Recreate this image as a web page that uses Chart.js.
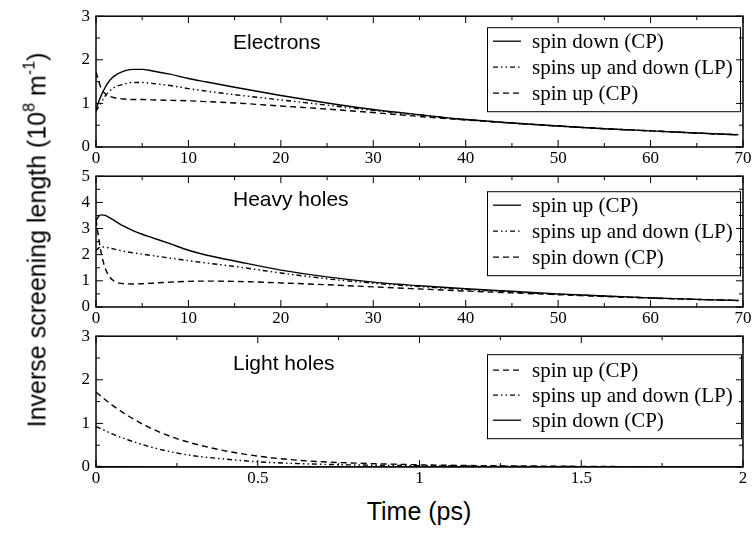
<!DOCTYPE html>
<html lang="en">
<head>
<meta charset="UTF-8">
<title>Inverse screening length</title>
<script src="https://cdn.jsdelivr.net/npm/chart.js"></script>
<style>
  body { margin: 0; background: #fff; width: 753px; height: 535px; position: relative; overflow: hidden; }
  .panel { position: absolute; left: 0; width: 753px; height: 170px; }
  #ytitle {
    position: absolute; left: 37px; top: 240px;
    transform: translate(-50%, -50%) rotate(-90deg);
    font: 25px "Liberation Sans", Arial, sans-serif; white-space: nowrap;
  }
  #ytitle sup { font-size: 16px; vertical-align: 11px; line-height: 0; }
  #xtitle {
    position: absolute; left: 419px; top: 511px;
    transform: translate(-50%, -50%);
    font: 25px "Liberation Sans", Arial, sans-serif; white-space: nowrap;
  }
</style>
</head>
<body>
<div class="panel" style="top:0px"><canvas id="c1" width="753" height="170"></canvas></div>
<div class="panel" style="top:160px"><canvas id="c2" width="753" height="170"></canvas></div>
<div class="panel" style="top:320px"><canvas id="c3" width="753" height="170"></canvas></div>
<div id="ytitle">Inverse screening length (10<sup>8</sup> m<sup>-1</sup>)</div>
<div id="xtitle">Time (ps)</div>

<script>
// electrons (ps)
const tElec = [0, 0.5, 1, 1.5, 2, 3, 4, 5, 6, 8, 10, 12, 15, 20, 25, 30, 35, 40, 45, 50, 55, 60, 65, 69.5];
const elecDown = [0.87, 1.15, 1.37, 1.53, 1.63, 1.74, 1.78, 1.78, 1.75, 1.67, 1.57, 1.49, 1.37, 1.18, 1.01, 0.86, 0.74, 0.63, 0.55, 0.48, 0.42, 0.37, 0.32, 0.28];
const elecLP   = [0.82, 1.0, 1.17, 1.29, 1.37, 1.44, 1.48, 1.48, 1.46, 1.41, 1.34, 1.28, 1.2, 1.08, 0.96, 0.84, 0.73, 0.63, 0.55, 0.48, 0.42, 0.37, 0.32, 0.28];
const elecUp   = [1.72, 1.38, 1.22, 1.16, 1.13, 1.1, 1.09, 1.09, 1.08, 1.07, 1.06, 1.04, 1.01, 0.94, 0.87, 0.79, 0.7, 0.62, 0.55, 0.48, 0.42, 0.37, 0.32, 0.28];

// heavy holes (ps)
const tHeavy = [0, 0.3, 0.6, 1, 1.5, 2, 2.5, 3, 4, 5, 6, 8, 10, 12, 15, 20, 25, 30, 35, 40, 45, 50, 55, 60, 65, 69.5];
const heavyUp   = [3.3, 3.47, 3.52, 3.5, 3.41, 3.3, 3.19, 3.09, 2.92, 2.78, 2.66, 2.42, 2.17, 1.98, 1.76, 1.41, 1.15, 0.95, 0.81, 0.7, 0.6, 0.5, 0.42, 0.35, 0.29, 0.25];
const heavyLP   = [2.15, 2.26, 2.3, 2.29, 2.25, 2.21, 2.17, 2.13, 2.07, 2.02, 1.97, 1.87, 1.77, 1.68, 1.55, 1.3, 1.08, 0.91, 0.78, 0.67, 0.58, 0.49, 0.42, 0.35, 0.29, 0.25];
const heavyDown = [3.35, 2.6, 2.0, 1.48, 1.14, 0.98, 0.91, 0.89, 0.88, 0.89, 0.91, 0.95, 0.98, 0.99, 0.98, 0.92, 0.85, 0.77, 0.69, 0.61, 0.54, 0.47, 0.4, 0.34, 0.29, 0.25];

// light holes (ps)
const tLight = [0, 0.05, 0.1, 0.15, 0.2, 0.25, 0.3, 0.4, 0.5, 0.6, 0.7, 0.8, 1.0, 1.2, 1.4, 1.6, 1.8, 2.0];
const lightUp   = [1.72, 1.42, 1.17, 0.96, 0.79, 0.65, 0.54, 0.37, 0.25, 0.17, 0.12, 0.09, 0.05, 0.03, 0.02, 0.01, 0.005, 0.003];
const lightLP   = [0.93, 0.76, 0.62, 0.5, 0.4, 0.32, 0.26, 0.18, 0.12, 0.085, 0.062, 0.047, 0.03, 0.02, 0.012, 0.007, 0.004, 0.002];
const lightDown = [0.01, 0.008, 0.006, 0.004, 0.003, 0.002, 0.001, 0.001, 0, 0, 0, 0, 0, 0, 0, 0, 0, 0];

const SOLID = [];
const DASHED = [6, 4];
const DASHDOT = [5, 3, 1.5, 3, 1.5, 3];

const SERIF = '"Liberation Serif", "Times New Roman", serif';
const SANS = '"Liberation Sans", Arial, sans-serif';

// frame with inward major/minor ticks on all four sides
const framePlugin = {
    id: 'frame',
    afterDraw(chart) {
        const { ctx, chartArea: a, scales: { x, y } } = chart;
        ctx.save();
        ctx.strokeStyle = '#000';
        ctx.lineWidth = 1;
        const seg = (x0, y0, x1, y1) => { ctx.beginPath(); ctx.moveTo(x0, y0); ctx.lineTo(x1, y1); ctx.stroke(); };
        const xs = chart.options.scales.x.ticks.stepSize;
        for (let i = 0; x.min + i * xs / 2 <= x.max + 1e-9; i++) {
            const px = x.getPixelForValue(x.min + i * xs / 2);
            const len = i % 2 === 0 ? 7 : 4;
            seg(px, a.bottom, px, a.bottom - len);
            seg(px, a.top, px, a.top + len);
        }
        const ys = chart.options.scales.y.ticks.stepSize;
        for (let i = 0; y.min + i * ys / 2 <= y.max + 1e-9; i++) {
            const py = y.getPixelForValue(y.min + i * ys / 2);
            const len = i % 2 === 0 ? 7 : 4;
            seg(a.left, py, a.left + len, py);
            seg(a.right, py, a.right - len, py);
        }
        ctx.lineWidth = 1.5;
        ctx.strokeRect(a.left, a.top, a.right - a.left, a.bottom - a.top);
        ctx.restore();
    }
};

// boxed legend plus panel caption
const boxLegend = {
    id: 'boxLegend',
    afterDatasetsDraw(chart, args, opts) {
        const { ctx, chartArea: a } = chart;
        ctx.save();
        ctx.font = '21px ' + SANS;
        ctx.fillStyle = '#000';
        ctx.textBaseline = 'middle';
        ctx.textAlign = 'left';
        ctx.fillText(opts.caption, opts.captionX, a.top + opts.captionDy);

        const left = opts.left, top = a.top + opts.dy;
        const right = a.right - opts.dr, bottom = top + 84;
        ctx.fillStyle = '#fff';
        ctx.fillRect(left, top, right - left, bottom - top);
        ctx.lineWidth = 1;
        ctx.strokeStyle = '#000';
        ctx.strokeRect(left + 0.5, top + 0.5, right - left, bottom - top);

        ctx.font = '21px ' + SERIF;
        ctx.fillStyle = '#000';
        chart.data.datasets.forEach((ds, i) => {
            const ry = top + opts.firstRow + i * opts.rowGap;
            ctx.setLineDash(ds.borderDash);
            ctx.lineWidth = 1.3;
            ctx.beginPath();
            ctx.moveTo(left + 6, ry);
            ctx.lineTo(left + 34, ry);
            ctx.stroke();
            ctx.setLineDash([]);
            ctx.fillText(ds.label, left + 45, ry + 1);
        });
        ctx.restore();
    }
};

function series(label, times, values, dash) {
    return {
        label: label,
        data: times.map((t, i) => ({ x: t, y: values[i] })),
        borderColor: '#000',
        borderWidth: 1.4,
        borderDash: dash,
        pointRadius: 0,
        fill: false,
        cubicInterpolationMode: 'monotone'
    };
}

function panel(id, datasets, xMax, xStep, yMax, legend, padTop) {
    new Chart(document.getElementById(id), {
        type: 'line',
        data: { datasets: datasets },
        options: {
            responsive: false,
            animation: false,
            layout: { padding: { top: padTop, right: 10, left: 0, bottom: 0 } },
            scales: {
                x: {
                    type: 'linear', min: 0, max: xMax,
                    grid: { display: false, drawTicks: false },
                    border: { display: false },
                    ticks: {
                        stepSize: xStep, autoSkip: false, maxRotation: 0, padding: 1,
                        color: '#000', font: { family: SERIF, size: 17 },
                        callback: v => String(v)
                    },
                    afterFit: s => { s.height = 23; }
                },
                y: {
                    min: 0, max: yMax,
                    grid: { display: false, drawTicks: false },
                    border: { display: false },
                    ticks: {
                        stepSize: 1, padding: 6,
                        color: '#000', font: { family: SERIF, size: 17 }
                    },
                    afterFit: s => { s.width = 96; }
                }
            },
            plugins: {
                legend: { display: false },
                tooltip: { enabled: false },
                boxLegend: legend
            }
        },
        plugins: [boxLegend, framePlugin]
    });
}

panel('c1', [
    series('spin down (CP)', tElec, elecDown, SOLID),
    series('spins up and down (LP)', tElec, elecLP, DASHDOT),
    series('spin up (CP)', tElec, elecUp, DASHED)
], 70, 10, 3, { caption: 'Electrons', captionX: 233, captionDy: 27, left: 487, dy: 11, dr: 3, firstRow: 14, rowGap: 26 }, 13);

panel('c2', [
    series('spin up (CP)', tHeavy, heavyUp, SOLID),
    series('spins up and down (LP)', tHeavy, heavyLP, DASHDOT),
    series('spin down (CP)', tHeavy, heavyDown, DASHED)
], 70, 10, 5, { caption: 'Heavy holes', captionX: 233, captionDy: 24, left: 487, dy: 15, dr: 3, firstRow: 14, rowGap: 26 }, 14);

panel('c3', [
    series('spin up (CP)', tLight, lightUp, DASHED),
    series('spins up and down (LP)', tLight, lightLP, DASHDOT),
    series('spin down (CP)', tLight, lightDown, SOLID)
], 2, 0.5, 3, { caption: 'Light holes', captionX: 233, captionDy: 28, left: 487, dy: 18, dr: 2, firstRow: 16, rowGap: 25 }, 14);
</script>
</body>
</html>
